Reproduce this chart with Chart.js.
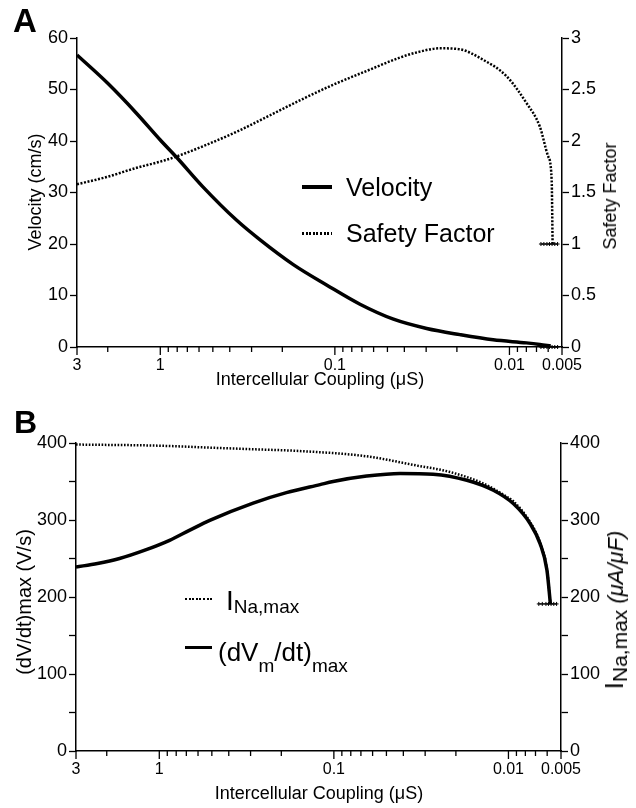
<!DOCTYPE html>
<html>
<head>
<meta charset="utf-8">
<script src="https://cdn.jsdelivr.net/npm/chart.js@4.4.0/dist/chart.umd.min.js"></script>
<style>
  html, body { margin:0; padding:0; background:#fff; }
  #wrap { position:relative; width:636px; height:808px; overflow:hidden; font-family:"Liberation Sans", Arial, Helvetica, sans-serif; color:#000; }
  .box { position:absolute; left:0; width:636px; }
  .t { position:absolute; line-height:1; white-space:nowrap; }
  .rot { position:absolute; line-height:1; white-space:nowrap; display:flex; align-items:baseline; transform:translate(-50%,-50%) rotate(-90deg); }
  .hcen { position:absolute; line-height:1; white-space:nowrap; transform:translate(-50%,-50%); }
  .flex { position:absolute; line-height:1; white-space:nowrap; display:flex; align-items:baseline; }
  .solid { position:absolute; background:#000; }
  .dots { position:absolute; background:repeating-linear-gradient(90deg,#000 0 2px,transparent 2px 3.6px); }
</style>
</head>
<body>
<div id="wrap">
  <div class="box" style="top:0;height:390px;"><canvas id="cA"></canvas></div>
  <div class="box" style="top:390px;height:418px;"><canvas id="cB"></canvas></div>

  <!-- panel letters -->
  <div class="t" style="left:13px;top:4px;font-size:33px;font-weight:bold;">A</div>
  <div class="t" style="left:14px;top:406px;font-size:32px;font-weight:bold;">B</div>

  <!-- panel A axis titles -->
  <div class="rot" style="left:35px;top:192px;font-size:18px;">Velocity (cm/s)</div>
  <div class="rot" style="left:610px;top:196px;font-size:18px;">Safety Factor</div>
  <div class="hcen" style="left:320px;top:379px;font-size:18px;">Intercellular Coupling (μS)</div>

  <!-- panel A legend -->
  <div class="solid" style="left:302px;top:185px;width:30px;height:3.5px;"></div>
  <div class="t" style="left:346px;top:175px;font-size:25px;">Velocity</div>
  <div class="dots" style="left:302px;top:232px;width:30px;height:2.5px;"></div>
  <div class="t" style="left:346px;top:221px;font-size:25px;">Safety Factor</div>

  <!-- panel B axis titles -->
  <div class="rot" style="left:24px;top:602px;font-size:20px;">(dV/dt)max (V/s)</div>
  <div class="rot" style="left:614px;top:610px;font-size:26px;"><span>I</span><span style="font-size:21px;position:relative;top:4px;">Na,max</span><span style="font-size:22px;font-style:italic;">&nbsp;(μA/μF)</span></div>
  <div class="hcen" style="left:319px;top:793px;font-size:18px;">Intercellular Coupling (μS)</div>

  <!-- panel B legend -->
  <div class="dots" style="left:185px;top:598px;width:27px;height:2.2px;"></div>
  <div class="flex" style="left:226px;top:587px;font-size:28px;"><span>I</span><span style="font-size:19px;position:relative;top:3px;">Na,max</span></div>
  <div class="solid" style="left:185px;top:646px;width:27px;height:3px;"></div>
  <div class="flex" style="left:218px;top:639px;font-size:26px;"><span>(dV</span><span style="font-size:19px;position:relative;top:11px;">m</span><span>/dt)</span><span style="font-size:19px;position:relative;top:11px;">max</span></div>
</div>

<script>
// ---------- shared x axis ----------
const xTickValues = [3,2,1,0.9,0.8,0.7,0.6,0.5,0.4,0.3,0.2,0.1,0.09,0.08,0.07,0.06,0.05,0.04,0.03,0.02,0.01,0.009,0.008,0.007,0.006,0.005];
const xMajorTicks = [3,1,0.1,0.01,0.005];
const xMajorLabels = ['3','1','0.1','0.01','0.005'];

// ---------- panel A ----------
const velX = [3,2,1.37,1,0.8,0.57,0.365,0.268,0.173,0.111,0.0718,0.0462,0.0298,0.0192,0.0124,0.008,0.0067,0.0058];
const velY = [56.7,51.2,45.4,40.2,36.7,31.1,24.6,20.8,16.0,12.0,8.3,5.4,3.6,2.4,1.4,0.8,0.5,0.2];
const sfX = [3,2.03,1.365,1,0.806,0.568,0.365,0.235,0.152,0.1026,0.0658,0.0424,0.034,0.025,0.0192,0.0142,0.0104,0.008,0.0067,0.006,0.00573,0.00566];
const sfY = [1.58,1.65,1.74,1.80,1.85,1.95,2.09,2.25,2.41,2.545,2.68,2.81,2.86,2.90,2.89,2.79,2.63,2.37,2.14,1.85,1.62,1.0];
const endMarkX = [0.0066,0.00635,0.0061,0.0059,0.0057,0.0055,0.0053];
const sfMarkY = [1,1,1,1,1,1,1];
const velMarkY = [0,0,0,0,0,0,0];
const velTicks = [0,10,20,30,40,50,60];
const sfTicks = [0,0.5,1,1.5,2,2.5,3];

// ---------- panel B ----------
const dvX = [3,2.26,1.69,1.22,0.873,0.673,0.514,0.29,0.187,0.12,0.101,0.0649,0.0418,0.027,0.0173,0.0122,0.00935,0.0075,0.00658,0.00602,0.00575];
const dvY = [239,243.5,250,260.5,273.6,286.5,299.6,322,335.5,346,350,357,360.5,359.5,351.6,338.6,321,295,269,235,191];
const inaX = [3,1,0.514,0.3,0.158,0.0649,0.034,0.0216,0.0139,0.0102,0.00935,0.0075,0.00658,0.00602,0.00575];
const inaY = [398,396.5,394,392,389.6,382.7,371,362.3,347.3,330,324,297,270,236,191];
const dvMarkX = [0.0067,0.0064,0.0061,0.0059,0.0057,0.0055,0.0053];
const dvMarkY = [191,191,191,191,191,191,191];

const FONT = '"Liberation Sans", Arial, Helvetica, sans-serif';
const pts = (xs, ys) => xs.map((x, i) => ({x, y: ys[i]}));

const xTickPlugin = {
  id: 'xTickMarks',
  afterDraw(chart) {
    const s = chart.scales.x, ctx = chart.ctx;
    ctx.save();
    ctx.strokeStyle = '#000';
    ctx.lineWidth = 1.3;
    xTickValues.forEach(v => {
      const px = s.getPixelForValue(v);
      const len = xMajorTicks.includes(v) ? 8 : 5;
      ctx.beginPath();
      ctx.moveTo(px, s.top);
      ctx.lineTo(px, s.top + len);
      ctx.stroke();
    });
    ctx.restore();
  }
};

function xScale(height) {
  return {
    type: 'logarithmic', position: 'bottom', reverse: true, min: 0.005, max: 3,
    afterBuildTicks: s => { s.ticks = xTickValues.map(v => ({value: v})); },
    afterFit: s => { s.height = height; },
    ticks: {
      autoSkip: false, maxRotation: 0, minRotation: 0, padding: 9, color: '#000',
      font: {family: FONT, size: 16},
      callback: v => { const i = xMajorTicks.indexOf(v); return i >= 0 ? xMajorLabels[i] : ''; }
    },
    grid: {drawOnChartArea: false, drawTicks: false},
    border: {display: true, color: '#000', width: 1.5}
  };
}

function yScale(pos, min, max, step, width, labelFn) {
  return {
    type: 'linear', position: pos, min, max,
    afterFit: s => { s.width = width; },
    ticks: {stepSize: step, color: '#000', padding: 2, font: {family: FONT, size: 18}, callback: labelFn},
    grid: {drawOnChartArea: false, drawTicks: true, tickLength: 7, tickColor: '#000', tickWidth: 1.3},
    border: {display: true, color: '#000', width: 1.5}
  };
}

const common = {
  responsive: true, maintainAspectRatio: false, animation: false,
  plugins: {legend: {display: false}, tooltip: {enabled: false}},
  elements: {point: {radius: 0}, line: {cubicInterpolationMode: 'monotone'}}
};

const markStyle = {borderColor: '#000', borderWidth: 1, pointStyle: 'cross', pointRadius: 2, pointBorderWidth: 1, pointBorderColor: '#000', showLine: true, clip: false, cubicInterpolationMode: 'default', tension: 0};

new Chart(document.getElementById('cA'), {
  type: 'line',
  data: {datasets: [
    {data: pts(velX, velY), yAxisID: 'y', borderColor: '#000', borderWidth: 3.5, fill: false},
    {data: pts(sfX, sfY), yAxisID: 'y1', borderColor: '#000', borderWidth: 2.5, borderDash: [2, 1.6], fill: false},
    Object.assign({data: pts(endMarkX, sfMarkY), yAxisID: 'y1'}, markStyle),
    Object.assign({data: pts(endMarkX, velMarkY), yAxisID: 'y'}, markStyle)
  ]},
  options: Object.assign({}, common, {
    layout: {padding: {top: 38, left: 0, right: 0, bottom: 0}},
    scales: {
      x: xScale(43),
      y: yScale('left', 0, 60, 10, 77, v => velTicks.includes(v) ? String(v) : ''),
      y1: yScale('right', 0, 3, 0.5, 74, v => sfTicks.includes(v) ? String(v) : '')
    }
  }),
  plugins: [xTickPlugin]
});

new Chart(document.getElementById('cB'), {
  type: 'line',
  data: {datasets: [
    {data: pts(inaX, inaY), yAxisID: 'y1', borderColor: '#000', borderWidth: 2.5, borderDash: [1.6, 1.6], fill: false},
    {data: pts(dvX, dvY), yAxisID: 'y', borderColor: '#000', borderWidth: 3.5, fill: false},
    Object.assign({data: pts(dvMarkX, dvMarkY), yAxisID: 'y'}, markStyle)
  ]},
  options: Object.assign({}, common, {
    layout: {padding: {top: 53, left: 0, right: 0, bottom: 0}},
    scales: {
      x: xScale(57),
      y: yScale('left', 0, 400, 50, 76, v => v % 100 === 0 ? String(v) : ''),
      y1: yScale('right', 0, 400, 50, 75, v => v % 100 === 0 ? String(v) : '')
    }
  }),
  plugins: [xTickPlugin]
});
</script>
</body>
</html>
